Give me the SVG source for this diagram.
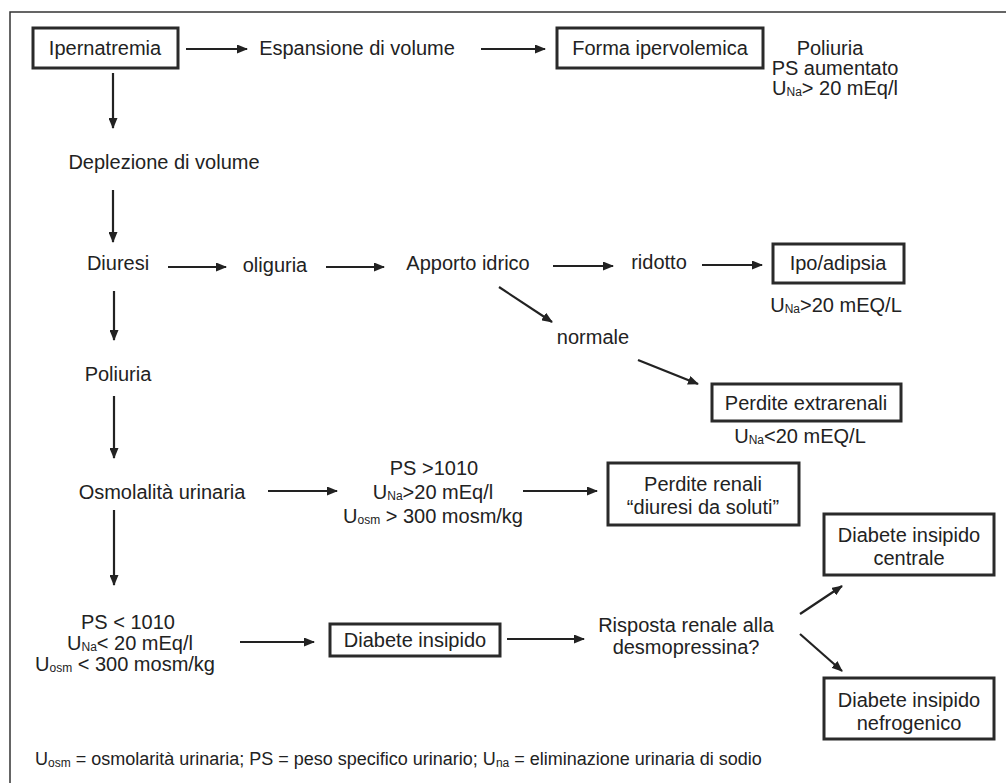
<svg xmlns="http://www.w3.org/2000/svg" width="1006" height="783" viewBox="0 0 1006 783">
<style>
text{font-family:"Liberation Sans",Arial,sans-serif;font-size:20px;fill:#222;text-anchor:middle;dominant-baseline:central}
.box{fill:#fff;stroke:#2a2a2a;stroke-width:3}
.c line{stroke:#222;stroke-width:2.2;marker-end:url(#ah)}
.sub{font-size:12px}
.leg{font-size:18px;text-anchor:start}
</style>
<defs>
<marker id="ah" markerWidth="11" markerHeight="9" refX="10" refY="4.5" orient="auto" markerUnits="userSpaceOnUse">
<path d="M0,0 L11,4.5 L0,9 z" fill="#222"/>
</marker>
</defs>
<rect x="10" y="12" width="1010" height="790" fill="none" stroke="#333" stroke-width="1.5"/>
<g class="c">
<line x1="186" y1="49" x2="247" y2="49"/>
<line x1="481" y1="49" x2="545" y2="49"/>
<line x1="113" y1="73" x2="113" y2="128"/>
<line x1="113" y1="190" x2="113" y2="242"/>
<line x1="168" y1="267" x2="226" y2="267"/>
<line x1="326" y1="267" x2="384" y2="267"/>
<line x1="553" y1="266" x2="613" y2="266"/>
<line x1="702" y1="265" x2="762" y2="265"/>
<line x1="499" y1="287" x2="552" y2="322"/>
<line x1="638" y1="360" x2="698" y2="384"/>
<line x1="114" y1="291" x2="114" y2="340"/>
<line x1="114" y1="396" x2="114" y2="458"/>
<line x1="268" y1="491" x2="337" y2="491"/>
<line x1="523" y1="491" x2="597" y2="491"/>
<line x1="114" y1="510" x2="114" y2="585"/>
<line x1="240" y1="642" x2="314" y2="642"/>
<line x1="507" y1="639" x2="584" y2="639"/>
<line x1="800" y1="614" x2="842" y2="586"/>
<line x1="800" y1="634" x2="842" y2="671"/>
</g>
<g id="n-ipernatremia"><rect class="box" x="33" y="28" width="145" height="40"/><text x="105" y="48">Ipernatremia</text></g>
<g id="n-espansione"><text x="357" y="48">Espansione di volume</text></g>
<g id="n-forma"><rect class="box" x="557" y="28" width="206" height="40"/><text x="660" y="48">Forma ipervolemica</text></g>
<g id="n-poliuria-ps"><text x="830" y="48">Poliuria</text><text x="835" y="68">PS aumentato</text><text x="835" y="88">U<tspan class="sub" dy="4">Na</tspan><tspan dy="-4">&gt; 20 mEq/l</tspan></text></g>
<g id="n-deplezione"><text x="164" y="162">Deplezione di volume</text></g>
<g id="n-diuresi"><text x="118" y="263">Diuresi</text></g>
<g id="n-oliguria"><text x="275" y="265">oliguria</text></g>
<g id="n-apporto"><text x="468" y="263">Apporto idrico</text></g>
<g id="n-ridotto"><text x="659" y="262">ridotto</text></g>
<g id="n-ipo"><rect class="box" x="773" y="244" width="131" height="39"/><text x="838" y="263">Ipo/adipsia</text><text x="836" y="305">U<tspan class="sub" dy="4">Na</tspan><tspan dy="-4">&gt;20 mEQ/L</tspan></text></g>
<g id="n-normale"><text x="593" y="337">normale</text></g>
<g id="n-extrarenali"><rect class="box" x="712" y="384" width="189" height="37"/><text x="806" y="403">Perdite extrarenali</text><text x="800" y="436">U<tspan class="sub" dy="4">Na</tspan><tspan dy="-4">&lt;20 mEQ/L</tspan></text></g>
<g id="n-poliuria"><text x="118" y="374">Poliuria</text></g>
<g id="n-osmolalita"><text x="162" y="492">Osmolalità urinaria</text></g>
<g id="n-ps-gt"><text x="434" y="468">PS &gt;1010</text><text x="433" y="492">U<tspan class="sub" dy="4">Na</tspan><tspan dy="-4">&gt;20 mEq/l</tspan></text><text x="433" y="516">U<tspan class="sub" dy="4">osm</tspan><tspan dy="-4"> &gt; 300 mosm/kg</tspan></text></g>
<g id="n-renali"><rect class="box" x="608" y="463" width="191" height="62"/><text x="703" y="484">Perdite renali</text><text x="703" y="507">“diuresi da soluti”</text></g>
<g id="n-centrale"><rect class="box" x="824" y="514" width="170" height="61"/><text x="909" y="535">Diabete insipido</text><text x="909" y="558">centrale</text></g>
<g id="n-ps-lt"><text x="128" y="622">PS &lt; 1010</text><text x="130" y="643">U<tspan class="sub" dy="4">Na</tspan><tspan dy="-4">&lt; 20 mEq/l</tspan></text><text x="125" y="664">U<tspan class="sub" dy="4">osm</tspan><tspan dy="-4"> &lt; 300 mosm/kg</tspan></text></g>
<g id="n-diabete"><rect class="box" x="330" y="624" width="170" height="32"/><text x="415" y="640">Diabete insipido</text></g>
<g id="n-risposta"><text x="686" y="625">Risposta renale alla</text><text x="686" y="647">desmopressina?</text></g>
<g id="n-nefrogenico"><rect class="box" x="824" y="678" width="170" height="61"/><text x="909" y="700">Diabete insipido</text><text x="909" y="723">nefrogenico</text></g>
<g id="legend"><text class="leg" x="35" y="759">U<tspan class="sub" dy="4">osm</tspan><tspan dy="-4"> = osmolarità urinaria; PS = peso specifico urinario; U</tspan><tspan class="sub" dy="4">na</tspan><tspan dy="-4"> = eliminazione urinaria di sodio</tspan></text></g>
</svg>
